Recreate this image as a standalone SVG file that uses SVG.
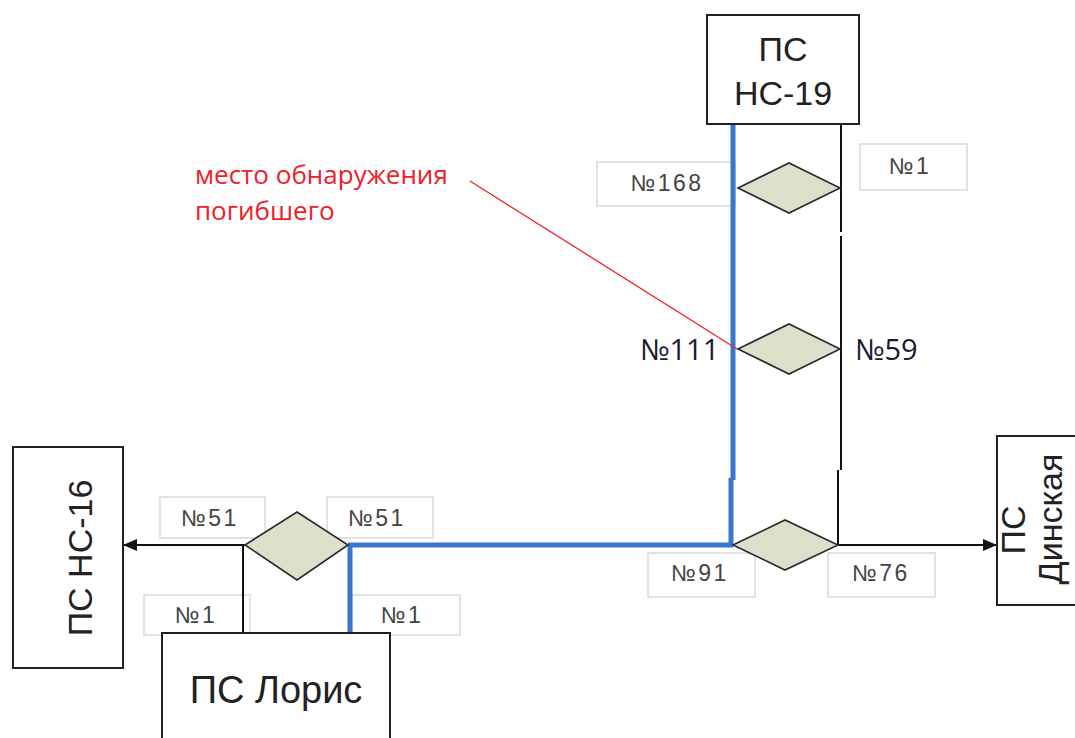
<svg xmlns="http://www.w3.org/2000/svg" width="1075" height="738" viewBox="0 0 1075 738">
<style>
.box{fill:#fff;stroke:#222;stroke-width:2}
.t{font-family:"Liberation Sans",Arial,sans-serif;font-size:34px;fill:#222;text-anchor:middle}
.lb{fill:#fff;stroke:#e2e2e2;stroke-width:2}
.lt{font-family:"Liberation Sans",Arial,sans-serif;font-size:23px;letter-spacing:2.5px;fill:#444;text-anchor:middle}
.ct{font-family:"Open Sans","DejaVu Sans",sans-serif;font-size:29px;fill:#1a1a33}
.dia{fill:#dcdfca;stroke:#2a2a2a;stroke-width:1.6}
.blue{stroke:#3a76d0;stroke-width:5;fill:none}
.blk{stroke:#111;stroke-width:2;fill:none}
.red{font-family:"Open Sans","DejaVu Sans",sans-serif;font-size:26px;fill:#f0202a}
</style>
<defs>
<marker id="arr" markerWidth="14" markerHeight="12" refX="13" refY="6" orient="auto" markerUnits="userSpaceOnUse">
<path d="M0,0 L14,6 L0,12 Z" fill="#111"/>
</marker>
</defs>
<g id="labels">
<rect class="lb" x="597" y="162" width="138" height="44"/>
<rect class="lb" x="860" y="144" width="107" height="46"/>
<rect class="lb" x="648" y="553" width="107" height="44"/>
<rect class="lb" x="828" y="553" width="107" height="44"/>
<rect class="lb" x="160" y="497" width="105" height="41"/>
<rect class="lb" x="327" y="497" width="106" height="41"/>
<rect class="lb" x="144" y="595" width="106" height="40"/>
<rect class="lb" x="352" y="595" width="108" height="40"/>
</g>
<g id="connectors">
<path class="blue" d="M733,124 V480 M731,478 V545 H348 M350,545 V633"/>
<path class="blk" d="M841,124 V232 M841,236 V470 M838,470 V545"/>
<line class="blk" x1="838" y1="545" x2="996" y2="545" marker-end="url(#arr)"/>
<line class="blk" x1="245" y1="545" x2="124" y2="545" marker-end="url(#arr)"/>
<line class="blk" x1="243" y1="545" x2="243" y2="633" stroke="#555"/>
<line x1="470" y1="181" x2="737" y2="349" stroke="#f0202a" stroke-width="1.3"/>
</g>
<g id="n-ns19">
<rect class="box" x="707" y="15" width="152" height="109"/>
<text class="t" x="783" y="61">ПС</text>
<text class="t" x="783" y="105">НС-19</text>
</g>
<g id="n-ns16">
<rect class="box" x="13" y="447" width="110" height="221"/>
<text class="t" transform="translate(80,558) rotate(-90)" y="12">ПС НС-16</text>
</g>
<g id="n-loris">
<rect class="box" x="162" y="633" width="228" height="120"/>
<text class="t" x="276" y="703" style="font-size:38px">ПС Лорис</text>
</g>
<g id="n-dinskaya">
<rect class="box" x="997" y="436" width="100" height="169"/>
<text class="t" transform="translate(1025,530) rotate(-90)">ПС</text>
<text class="t" transform="translate(1062,519) rotate(-90)">Динская</text>
</g>
<g id="d1"><polygon class="dia" points="738,188 789,163 840,188 789,213"/></g>
<g id="d2"><polygon class="dia" points="738,349 789,324 840,349 789,374"/></g>
<g id="d3"><polygon class="dia" points="733,545 785,520 838,545 785,570"/></g>
<g id="d4"><polygon class="dia" points="245,545 297,512 348,545 297,580"/></g>
<g id="texts">
<text class="lt" x="667" y="191">№168</text>
<text class="lt" x="910" y="174">№1</text>
<text class="lt" x="700" y="581">№91</text>
<text class="lt" x="881" y="581">№76</text>
<text class="lt" x="210" y="526">№51</text>
<text class="lt" x="377" y="526">№51</text>
<text class="lt" x="196" y="623">№1</text>
<text class="lt" x="402" y="623">№1</text>
<text class="ct" x="640" y="360">№111</text>
<text class="ct" x="855" y="360">№59</text>
<text class="red" x="195" y="184">место обнаружения</text>
<text class="red" x="195" y="220">погибшего</text>
</g>
</svg>
